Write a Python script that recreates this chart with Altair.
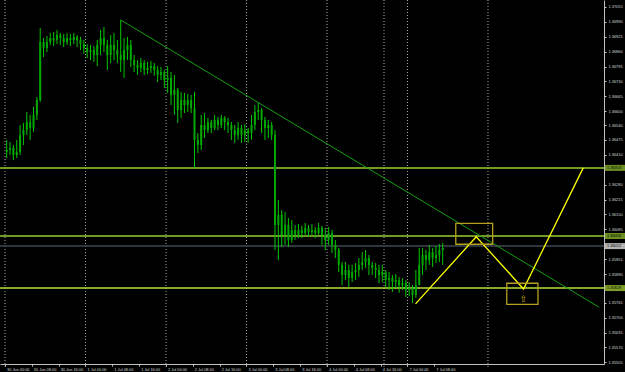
import json
import altair as alt
import pandas as pd

# ---- hourly candles (EURUSD-like), bar index 0 = 30 Jun 00:00 ----
bar_index = list(range(131))
opens = [1.36422, 1.36431, 1.36440, 1.36409, 1.36422, 1.36496, 1.36518, 1.36553, 1.36527, 1.36584,
         1.36649, 1.36902, 1.36876, 1.36902, 1.36919, 1.36911, 1.36932, 1.36919, 1.36902, 1.36919,
         1.36911, 1.36924, 1.36911, 1.36893, 1.36876, 1.36858, 1.36867, 1.36845, 1.36889, 1.36919,
         1.36889, 1.36845, 1.36889, 1.36867, 1.36845, 1.36823, 1.36867, 1.36889, 1.36823, 1.36802,
         1.36789, 1.36810, 1.36780, 1.36789, 1.36797, 1.36780, 1.36758, 1.36771, 1.36736, 1.36745,
         1.36671, 1.36693, 1.36605, 1.36649, 1.36627, 1.36649, 1.36614, 1.36475, 1.36453, 1.36540,
         1.36518, 1.36553, 1.36527, 1.36562, 1.36540, 1.36571, 1.36553, 1.36540, 1.36518, 1.36496,
         1.36527, 1.36496, 1.36518, 1.36505, 1.36540, 1.36597, 1.36605, 1.36562, 1.36527, 1.36540,
         1.36496, 1.36104, 1.36148, 1.36060, 1.36104, 1.36039, 1.36082, 1.36060, 1.36082, 1.36069,
         1.36091, 1.36073, 1.36082, 1.36069, 1.36091, 1.36060, 1.36039, 1.36069, 1.36017, 1.35995,
         1.35930, 1.35886, 1.35908, 1.35873, 1.35899, 1.35908, 1.35930, 1.35943, 1.35960, 1.35930,
         1.35917, 1.35908, 1.35886, 1.35899, 1.35864, 1.35873, 1.35855, 1.35864, 1.35842, 1.35851,
         1.35821, 1.35829, 1.35799, 1.35842, 1.35930, 1.35973, 1.35951, 1.35986, 1.35960, 1.35973,
         1.35995]
highs = [1.36475, 1.36466, 1.36453, 1.36475, 1.36540, 1.36549, 1.36597, 1.36584, 1.36619, 1.36662,
         1.36963, 1.36919, 1.36928, 1.36941, 1.36945, 1.36954, 1.36941, 1.36937, 1.36941, 1.36937,
         1.36941, 1.36932, 1.36924, 1.36911, 1.36893, 1.36889, 1.36884, 1.36911, 1.36954, 1.36967,
         1.36911, 1.36932, 1.36941, 1.36911, 1.36998, 1.36919, 1.36924, 1.36911, 1.36845, 1.36823,
         1.36832, 1.36823, 1.36815, 1.36819, 1.36810, 1.36797, 1.36793, 1.36780, 1.36797, 1.36771,
         1.36758, 1.36701, 1.36684, 1.36680, 1.36675, 1.36671, 1.36684, 1.36505, 1.36584, 1.36592,
         1.36571, 1.36562, 1.36584, 1.36575, 1.36584, 1.36579, 1.36571, 1.36553, 1.36540, 1.36553,
         1.36540, 1.36544, 1.36527, 1.36584, 1.36627, 1.36636, 1.36614, 1.36575, 1.36562, 1.36553,
         1.36518, 1.36213, 1.36169, 1.36161, 1.36135, 1.36126, 1.36104, 1.36108, 1.36100, 1.36113,
         1.36104, 1.36108, 1.36095, 1.36113, 1.36100, 1.36091, 1.36095, 1.36082, 1.36039, 1.36004,
         1.35943, 1.35943, 1.35930, 1.35930, 1.35938, 1.35960, 1.35986, 1.35995, 1.35973, 1.35943,
         1.35938, 1.35930, 1.35930, 1.35908, 1.35899, 1.35886, 1.35890, 1.35877, 1.35873, 1.35864,
         1.35855, 1.35842, 1.35908, 1.36004, 1.36004, 1.35995, 1.36017, 1.36004, 1.36012, 1.36021,
         1.36026]
lows = [1.36396, 1.36409, 1.36387, 1.36396, 1.36409, 1.36453, 1.36496, 1.36475, 1.36510, 1.36562,
        1.36640, 1.36836, 1.36858, 1.36889, 1.36884, 1.36893, 1.36889, 1.36880, 1.36889, 1.36884,
        1.36893, 1.36880, 1.36867, 1.36850, 1.36832, 1.36823, 1.36815, 1.36797, 1.36845, 1.36858,
        1.36780, 1.36810, 1.36823, 1.36810, 1.36771, 1.36745, 1.36823, 1.36793, 1.36771, 1.36758,
        1.36771, 1.36758, 1.36762, 1.36767, 1.36754, 1.36727, 1.36736, 1.36701, 1.36680, 1.36627,
        1.36584, 1.36549, 1.36571, 1.36592, 1.36597, 1.36592, 1.36353, 1.36418, 1.36431, 1.36483,
        1.36505, 1.36505, 1.36518, 1.36518, 1.36527, 1.36518, 1.36505, 1.36475, 1.36462, 1.36475,
        1.36462, 1.36466, 1.36462, 1.36475, 1.36518, 1.36562, 1.36505, 1.36475, 1.36483, 1.36475,
        1.35995, 1.35951, 1.36008, 1.36017, 1.36008, 1.36026, 1.36039, 1.36047, 1.36047, 1.36056,
        1.36052, 1.36056, 1.36047, 1.36060, 1.36017, 1.35995, 1.36017, 1.35982, 1.35960, 1.35899,
        1.35842, 1.35864, 1.35834, 1.35855, 1.35864, 1.35877, 1.35908, 1.35917, 1.35886, 1.35886,
        1.35873, 1.35851, 1.35855, 1.35834, 1.35821, 1.35812, 1.35829, 1.35808, 1.35821, 1.35790,
        1.35794, 1.35764, 1.35786, 1.35842, 1.35886, 1.35908, 1.35930, 1.35921, 1.35938, 1.35943,
        1.35930]
closes = [1.36431, 1.36440, 1.36409, 1.36422, 1.36496, 1.36518, 1.36553, 1.36527, 1.36584, 1.36649,
          1.36902, 1.36876, 1.36902, 1.36919, 1.36911, 1.36932, 1.36919, 1.36902, 1.36919, 1.36911,
          1.36924, 1.36911, 1.36893, 1.36876, 1.36858, 1.36867, 1.36845, 1.36889, 1.36919, 1.36889,
          1.36845, 1.36889, 1.36867, 1.36845, 1.36823, 1.36867, 1.36889, 1.36823, 1.36802, 1.36789,
          1.36810, 1.36780, 1.36789, 1.36797, 1.36780, 1.36758, 1.36771, 1.36736, 1.36745, 1.36671,
          1.36693, 1.36605, 1.36649, 1.36627, 1.36649, 1.36614, 1.36475, 1.36453, 1.36540, 1.36518,
          1.36553, 1.36527, 1.36562, 1.36540, 1.36571, 1.36553, 1.36540, 1.36518, 1.36496, 1.36527,
          1.36496, 1.36518, 1.36505, 1.36540, 1.36597, 1.36605, 1.36562, 1.36527, 1.36540, 1.36496,
          1.36104, 1.36148, 1.36060, 1.36104, 1.36039, 1.36082, 1.36060, 1.36082, 1.36069, 1.36091,
          1.36073, 1.36082, 1.36069, 1.36091, 1.36060, 1.36039, 1.36069, 1.36017, 1.35995, 1.35930,
          1.35886, 1.35908, 1.35873, 1.35899, 1.35908, 1.35930, 1.35943, 1.35960, 1.35930, 1.35917,
          1.35908, 1.35886, 1.35899, 1.35864, 1.35873, 1.35855, 1.35864, 1.35842, 1.35851, 1.35821,
          1.35829, 1.35799, 1.35842, 1.35930, 1.35973, 1.35951, 1.35986, 1.35960, 1.35973, 1.35995,
          1.36004]

# ---- axes ----
x_labels = ["30 Jun 00:00", "30 Jun 08:00", "30 Jun 16:00", "1 Jul 00:00", "1 Jul 08:00",
            "1 Jul 16:00", "2 Jul 00:00", "2 Jul 08:00", "2 Jul 16:00", "3 Jul 00:00",
            "3 Jul 08:00", "3 Jul 16:00", "4 Jul 00:00", "4 Jul 08:00", "4 Jul 16:00",
            "7 Jul 00:00", "7 Jul 08:00"]
x_label_bars = [0, 8, 16, 24, 32, 40, 48, 56, 64, 72, 80, 88, 96, 104, 112, 120, 128]
grid_bars = [-0.5, 23.5, 47.5, 71.5, 95.5, 112.5, 119.5, 143.5]
# price-scale labels that stay visible (the ones under the price tags are hidden there)
y_ticks = [1.37055, 1.36990, 1.36925, 1.36860, 1.36795, 1.36730, 1.36665, 1.36600, 1.36540,
           1.36475, 1.36410, 1.36280, 1.36215, 1.36150, 1.36085, 1.35955,
           1.35890, 1.35765, 1.35700, 1.35635, 1.35570, 1.35505]

# ---- drawn objects ----
level_prices = [1.36353, 1.36056, 1.35829]
level_colors = ["#9acd32", "#9acd32", "#b4e03a"]
bid_price = 1.36012
trend_x = [34, 176.6]
trend_y = [1.36998, 1.35746]
zig_x = [121.9, 140.0, 154.1, 171.9]
zig_y = [1.35760, 1.36053, 1.35825, 1.36353]
box_x1 = [133.9, 149.1]
box_x2 = [144.9, 158.4]
box_y1 = [1.36111, 1.35850]
box_y2 = [1.36020, 1.35758]
arrow_x = [154.1]
arrow_y = [1.35781]

FONT = "Liberation Sans"
FS = 3.9
xs = alt.Scale(domain=[-0.5, 176.6], nice=False, zero=False)
ys = alt.Scale(domain=[1.35498, 1.37085], nice=False, zero=False)

candles = pd.DataFrame(dict(i=bar_index, o=opens, h=highs, l=lows, c=closes))
label_expr = json.dumps(x_labels) + "[round((datum.value + 0.5) / 8)]"

x_axis = alt.Axis(values=[b - 0.5 for b in x_label_bars], labelExpr=label_expr, title="",
                  domainColor="#c0c0c0", tickColor="#c0c0c0", tickSize=2, grid=False,
                  labelColor="#d8d8d8", labelFontSize=FS, labelFont=FONT, labelAlign="left",
                  labelPadding=1, labelOffset=1.5, labelOverlap=False, labelFlush=False)
y_axis = alt.Axis(orient="right", values=y_ticks, format=".5f", title="", grid=False,
                  domainColor="#c0c0c0", tickColor="#c0c0c0", tickSize=2,
                  labelColor="#d8d8d8", labelFontSize=FS, labelFont=FONT, labelPadding=2,
                  labelOverlap=False, labelFlush=False, labelBaseline="middle")


def X(field):
    return alt.X(field, scale=xs, axis=x_axis)


def Y(field):
    return alt.Y(field, scale=ys, axis=y_axis)


wicks = alt.Chart(candles).mark_rule(color="#00c800", strokeWidth=1).encode(
    x=X("i:Q"), y=Y("l:Q"), y2="h:Q")
bodies = alt.Chart(candles).mark_bar(color="#00a800", size=2).encode(
    x=X("i:Q"), y=Y("o:Q"), y2="c:Q")

grid = alt.Chart(pd.DataFrame({"g": grid_bars})).mark_rule(
    color="#a8a8a8", strokeDash=[1, 2], strokeWidth=1).encode(
    x=X("g:Q"), y=alt.value(0), y2=alt.value(367))

levels_df = pd.DataFrame({"p": level_prices, "col": level_colors})
levels = alt.Chart(levels_df).mark_rule(strokeWidth=1.5).encode(
    y=Y("p:Q"), color=alt.Color("col:N", scale=None))

bid = alt.Chart(pd.DataFrame({"p": [bid_price]})).mark_rule(
    color="#3c4852", strokeWidth=1.5).encode(y=Y("p:Q"))

trend = alt.Chart(pd.DataFrame({"x": trend_x, "y": trend_y})).mark_line(
    color="#14a014", strokeWidth=1).encode(x=X("x:Q"), y=Y("y:Q"))

zig = alt.Chart(pd.DataFrame({"x": zig_x, "y": zig_y, "k": list(range(len(zig_x)))})).mark_line(
    color="#ffff00", strokeWidth=1.3).encode(x=X("x:Q"), y=Y("y:Q"), order=alt.Order("k:Q"))

boxes = alt.Chart(pd.DataFrame({"x1": box_x1, "x2": box_x2, "y1": box_y1, "y2": box_y2})).mark_rect(
    fillOpacity=0, stroke="#b4a01e", strokeWidth=1.3).encode(
    x=X("x1:Q"), x2="x2:Q", y=Y("y1:Q"), y2="y2:Q")

arrow = alt.Chart(pd.DataFrame({"x": arrow_x, "y": arrow_y})).mark_text(
    text="⇧", fontSize=9, color="#c8b020", font="DejaVu Sans", baseline="middle").encode(
    x=X("x:Q"), y=Y("y:Q"))

tag_prices = level_prices + [bid_price]
tags_df = pd.DataFrame({"p": tag_prices,
                        "bg": level_colors + ["#ffffff"],
                        "txt": [f"{p:.5f}" for p in tag_prices]})
tag_bg = alt.Chart(tags_df).mark_tick(orient="horizontal", size=20, thickness=6).encode(
    y=Y("p:Q"), x=alt.value(615), color=alt.Color("bg:N", scale=None))
tag_txt = alt.Chart(tags_df).mark_text(align="left", baseline="middle", fontSize=FS,
                                       font=FONT, color="#000000").encode(
    y=Y("p:Q"), x=alt.value(607), text="txt:N")

chart = alt.layer(grid, levels, bid, trend, wicks, bodies, zig, boxes, arrow, tag_bg, tag_txt).properties(
    width=604, height=364,
    padding={"left": 0, "top": 0, "right": 21, "bottom": 8},
    autosize=alt.AutoSizeParams(type="none"),
    background="#000000",
).configure_view(strokeWidth=0)

chart.save("out.html", embed_options={"renderer": "svg", "actions": False})
